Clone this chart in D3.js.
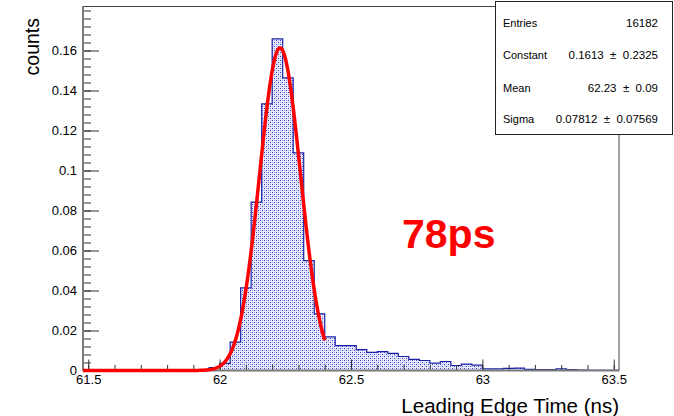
<!DOCTYPE html>
<html>
<head>
<meta charset="utf-8">
<script src="https://cdn.jsdelivr.net/npm/d3@7"></script>
<style>
  html, body { margin: 0; padding: 0; background: #fff; }
  svg { display: block; font-family: "Liberation Sans", Arial, Helvetica, sans-serif; }
  .stat { white-space: pre; }
</style>
</head>
<body>
<svg id="chart" width="674" height="416"></svg>
<script>
// Histogram binning (TH1-style: fixed-width bins between xLow and xHigh)
const xLow = 61.48;
const xHigh = 63.52;
const nBins = 51;

// Normalised bin contents, one per bin
const binContents = [
  0, 0, 0, 0, 0, 0, 0, 0, 0, 0, 0, 0,
  0.0015, 0.0036, 0.0142, 0.0413, 0.0842, 0.1333, 0.1658, 0.1463, 0.1088, 0.0549,
  0.0283, 0.0168, 0.0124, 0.0124, 0.0104, 0.0091, 0.0094, 0.0086, 0.0070, 0.0056,
  0.0050, 0.0037, 0.0045, 0.0025, 0.0032, 0.0027, 0.0008, 0.0008, 0.0011, 0.0012,
  0.0006, 0.0005, 0.0005, 0.0008, 0.0005, 0.0002, 0.0001, 0.0001, 0.0001
];

// Gaussian fit result
const fitConstant = 0.1613;
const fitMean = 62.23;
const fitSigma = 0.07812;
const fitRange = [61.48, 62.40];

// Statistics box rows
const statLabels = ["Entries", "Constant", "Mean", "Sigma"];
const statValues = ["16182", "0.1613  \u00b1  0.2325", "62.23  \u00b1  0.09", "0.07812  \u00b1  0.07569"];

// Axis ticks
const xMajorTicks = [61.5, 62, 62.5, 63, 63.5];
const yMajorTicks = [0, 0.02, 0.04, 0.06, 0.08, 0.1, 0.12, 0.14, 0.16];
const yMax = 0.182;

const xTitle = "Leading Edge Time (ns)";
const yTitle = "counts";
const annotation = "78ps";

const svg = d3.select("#chart");
const frame = { left: 83, right: 619, top: 6.5, bottom: 370.5 };

const x = d3.scaleLinear().domain([xLow, xHigh]).range([frame.left, frame.right]);
const y = d3.scaleLinear().domain([0, yMax]).range([frame.bottom, frame.top]);

// dotted fill pattern for the histogram
const defs = svg.append("defs");
const pat = defs.append("pattern")
  .attr("id", "dots").attr("patternUnits", "userSpaceOnUse")
  .attr("width", 4).attr("height", 4);
pat.append("rect").attr("width", 4).attr("height", 4).attr("fill", "#e8eafc");
pat.append("rect").attr("x", 0).attr("y", 0).attr("width", 1).attr("height", 1).attr("fill", "#3340cc");
pat.append("rect").attr("x", 2).attr("y", 2).attr("width", 1).attr("height", 1).attr("fill", "#3340cc");
pat.append("rect").attr("x", 2).attr("y", 0).attr("width", 1).attr("height", 1).attr("fill", "#aab2f0");
pat.append("rect").attr("x", 0).attr("y", 2).attr("width", 1).attr("height", 1).attr("fill", "#aab2f0");

const binWidth = (xHigh - xLow) / nBins;
const bins = binContents.map((v, i) => ({ x0: xLow + i * binWidth, x1: xLow + (i + 1) * binWidth, v }));

// histogram area + outline (step path)
const stepPts = [];
bins.forEach(b => { stepPts.push([b.x0, b.v]); stepPts.push([b.x1, b.v]); });
const area = d3.area().x(d => x(d[0])).y0(y(0)).y1(d => y(d[1]));
const line = d3.line().x(d => x(d[0])).y(d => y(d[1]));

svg.append("path").datum(stepPts).attr("d", area).attr("fill", "url(#dots)");
svg.append("path").datum(stepPts).attr("d", line)
  .attr("fill", "none").attr("stroke", "#1b22a8").attr("stroke-width", 1.2);

// frame
svg.append("rect")
  .attr("x", frame.left).attr("y", frame.top)
  .attr("width", frame.right - frame.left).attr("height", frame.bottom - frame.top)
  .attr("fill", "none").attr("stroke", "#444").attr("stroke-width", 1);

// axes
const fmtY = d => d === 0 ? "0" : String(+d.toFixed(2));
const yMinor = d3.range(0, 0.1801, 0.004).map(v => +v.toFixed(3));
const xMinor = d3.range(61.5, 63.5001, 0.1).map(v => +v.toFixed(2));

function styleAxis(g) {
  g.select(".domain").remove();
  g.selectAll(".tick line").attr("stroke", "#333").attr("stroke-width", 1);
  g.selectAll(".tick text").attr("fill", "#000")
    .style("font-family", "'Liberation Sans', Arial, sans-serif").style("font-size", "13px");
}

svg.append("g").attr("transform", `translate(${frame.left},0)`)
  .call(d3.axisLeft(y).tickValues(yMinor).tickSize(-8).tickFormat(""))
  .call(styleAxis);
svg.append("g").attr("transform", `translate(${frame.left},0)`)
  .call(d3.axisLeft(y).tickValues(yMajorTicks).tickSize(-16).tickPadding(6).tickFormat(fmtY))
  .call(styleAxis);

svg.append("g").attr("transform", `translate(0,${frame.bottom})`)
  .call(d3.axisBottom(x).tickValues(xMinor).tickSize(-5.5).tickFormat(""))
  .call(styleAxis);
svg.append("g").attr("transform", `translate(0,${frame.bottom})`)
  .call(d3.axisBottom(x).tickValues(xMajorTicks).tickSize(-11).tickPadding(4).tickFormat(d => String(d)))
  .call(styleAxis);

// axis lines
svg.append("line").attr("x1", frame.left).attr("x2", frame.left)
  .attr("y1", frame.top).attr("y2", frame.bottom)
  .attr("stroke", "#7a7a7a").attr("stroke-width", 2);
svg.append("line").attr("x1", frame.left).attr("x2", frame.right)
  .attr("y1", frame.bottom).attr("y2", frame.bottom)
  .attr("stroke", "#7a7a7a").attr("stroke-width", 2);

// Gaussian fit curve
const gauss = t => fitConstant * Math.exp(-0.5 * Math.pow((t - fitMean) / fitSigma, 2));
const fitPts = d3.range(0, 301).map(i => {
  const t = fitRange[0] + (fitRange[1] - fitRange[0]) * i / 300;
  return [t, gauss(t)];
});
svg.append("path").datum(fitPts).attr("d", line)
  .attr("fill", "none").attr("stroke", "#ff0000").attr("stroke-width", 3.5)
  .attr("stroke-linejoin", "round");

// axis titles
svg.append("text")
  .attr("transform", "translate(39,18) rotate(-90)")
  .attr("text-anchor", "end")
  .style("font-size", "19.5px").attr("fill", "#000")
  .text(yTitle);
svg.append("text")
  .attr("x", 619).attr("y", 413)
  .attr("text-anchor", "end")
  .style("font-size", "20.5px").attr("fill", "#000")
  .text(xTitle);

// resolution annotation
svg.append("text")
  .attr("x", 402).attr("y", 248)
  .style("font-size", "41px").style("font-weight", "bold")
  .attr("fill", "#ff0000")
  .text(annotation);

// statistics box
const box = { x: 495.5, y: 1.5, w: 177, h: 133 };
svg.append("rect")
  .attr("x", box.x).attr("y", box.y).attr("width", box.w).attr("height", box.h)
  .attr("fill", "#fff").attr("stroke", "#222").attr("stroke-width", 1);
const rowY = [27, 59, 92, 123];
statLabels.forEach((lab, i) => {
  svg.append("text").attr("class", "stat").attr("x", 503).attr("y", rowY[i])
    .style("font-size", "11px").attr("fill", "#000").text(lab);
  svg.append("text").attr("class", "stat").attr("x", 658).attr("y", rowY[i]).attr("text-anchor", "end")
    .style("font-size", "11.5px").attr("fill", "#000").text(statValues[i]);
});
</script>
</body>
</html>
